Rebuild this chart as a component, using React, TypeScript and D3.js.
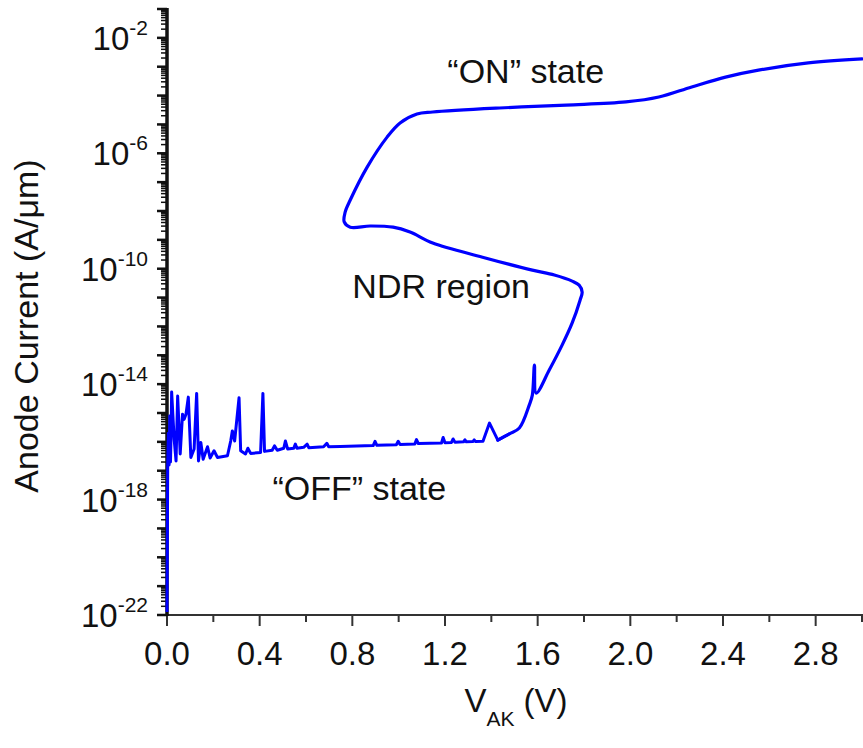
import { useEffect, useRef } from 'react';
import * as d3 from 'd3';

// OFF branch: anode voltage (V) and log10 of anode current (A/um)
const offVoltage = [
  0.000, 0.003, 0.006, 0.009, 0.012, 0.015, 0.018, 0.020, 0.031, 0.039, 0.046, 0.057,
  0.067, 0.074, 0.082, 0.092, 0.103, 0.117, 0.128, 0.136, 0.146, 0.156, 0.175, 0.186,
  0.203, 0.218, 0.261, 0.275, 0.282, 0.292, 0.311, 0.318, 0.339, 0.349, 0.361, 0.404,
  0.414, 0.421, 0.454, 0.464, 0.476, 0.504, 0.511, 0.521, 0.547, 0.554, 0.561, 0.590,
  0.605, 0.612, 0.676, 0.690, 0.698, 0.748, 0.890, 0.898, 0.906, 0.990, 0.998, 1.006,
  1.070, 1.077, 1.085, 1.185, 1.192, 1.200, 1.228, 1.235, 1.243, 1.280, 1.286, 1.292,
  1.320, 1.326, 1.332, 1.364, 1.392, 1.428,
];
const offLogCurrent = [
  -21.9, -16.9, -15.7, -16.8, -15.1, -16.7, -15.6, -14.27, -15.92, -16.66, -14.41, -16.42,
  -15.04, -15.22, -15.04, -14.45, -16.54, -16.25, -14.32, -16.66, -16.02, -16.60, -16.17, -16.56,
  -16.31, -16.54, -16.48, -15.97, -15.62, -15.97, -14.47, -16.31, -16.42, -16.22, -16.40, -16.37,
  -14.32, -16.33, -16.29, -16.14, -16.29, -16.22, -15.97, -16.25, -16.22, -16.08, -16.22, -16.19,
  -16.08, -16.20, -16.17, -16.05, -16.17, -16.16, -16.13, -15.98, -16.12, -16.10, -15.98, -16.09,
  -16.07, -15.92, -16.06, -16.04, -15.85, -16.03, -16.02, -15.90, -16.01, -16.00, -15.93, -16.00,
  -15.99, -15.93, -15.99, -15.98, -15.35, -15.94,
];

// switching branch: breakover, NDR snapback and ON state
const onVoltage = [
  1.478, 1.521, 1.564, 1.577, 1.586, 1.594, 1.650, 1.706, 1.749, 1.783, 1.792, 1.779,
  1.749, 1.672, 1.577, 1.362, 1.147, 1.049, 0.976, 0.877, 0.791, 0.765, 0.769, 0.791,
  0.864, 0.950, 1.006, 1.079, 1.147, 1.435, 1.723, 1.981, 2.123, 2.265, 2.411, 2.553,
  2.768, 3.000,
];
const onLogCurrent = [
  -15.72, -15.52, -14.72, -14.38, -13.34, -14.31, -13.51, -12.64, -11.88, -11.09, -10.81, -10.57,
  -10.43, -10.22, -10.05, -9.60, -9.11, -8.73, -8.56, -8.52, -8.56, -8.38, -8.04, -7.62,
  -6.48, -5.44, -4.95, -4.64, -4.57, -4.43, -4.33, -4.22, -4.05, -3.70, -3.36, -3.12,
  -2.87, -2.73,
];

const xMajorTicks = [0, 0.4, 0.8, 1.2, 1.6, 2.0, 2.4, 2.8];
const xMinorTicks = [0.2, 0.6, 1.0, 1.4, 1.8, 2.2, 2.6, 3.0];
const yLabelExponents = [-2, -6, -10, -14, -18, -22];

const annotations = [
  { text: '\u201CON\u201D state', v: 1.21, logI: -3.55 },
  { text: 'NDR region', v: 0.80, logI: -11.0 },
  { text: '\u201COFF\u201D state', v: 0.455, logI: -18.0 },
];

const FONT = '"Liberation Sans", Arial, Helvetica, sans-serif';

export default function App() {
  const svgRef = useRef<SVGSVGElement>(null);
  const W = 863, H = 748;

  useEffect(() => {
    if (!svgRef.current) return;
    const svg = d3.select(svgRef.current);
    svg.selectAll('*').remove();

    const x = d3.scaleLinear().domain([0, 3]).range([167, 862]);
    const y = d3.scaleLog().domain([1e-22, 1e-1]).range([615, 9]);

    // x axis: line, ticks, labels
    svg.append('line')
      .attr('x1', 167).attr('x2', W).attr('y1', 615).attr('y2', 615)
      .attr('stroke', '#333').attr('stroke-width', 2);
    svg.selectAll('line.xmaj').data(xMajorTicks).enter().append('line')
      .attr('x1', d => x(d)).attr('x2', d => x(d)).attr('y1', 615).attr('y2', 626)
      .attr('stroke', '#333').attr('stroke-width', 2);
    svg.selectAll('line.xmin').data(xMinorTicks).enter().append('line')
      .attr('x1', d => x(d)).attr('x2', d => x(d)).attr('y1', 615).attr('y2', 622)
      .attr('stroke', '#333').attr('stroke-width', 2);
    svg.selectAll('text.xlab').data(xMajorTicks).enter().append('text')
      .attr('x', d => x(d)).attr('y', 665)
      .attr('text-anchor', 'middle')
      .style('font-family', FONT).style('font-size', '33px').style('fill', '#111')
      .text(d => d.toFixed(1));

    // y axis: decade ticks and 2..9 minor ticks
    const decades = d3.range(-22, 0);
    const minor: number[] = [];
    for (const e of decades.slice(0, -1)) for (let k = 2; k <= 9; k++) minor.push(k * 10 ** e);
    svg.selectAll('line.ymin').data(minor).enter().append('line')
      .attr('x1', 161).attr('x2', 167).attr('y1', d => y(d)).attr('y2', d => y(d))
      .attr('stroke', '#111').attr('stroke-width', 1.5);
    svg.selectAll('line.ymaj').data(decades).enter().append('line')
      .attr('x1', 157).attr('x2', 167).attr('y1', d => y(10 ** d)).attr('y2', d => y(10 ** d))
      .attr('stroke', '#111').attr('stroke-width', 2.5);
    svg.append('line')
      .attr('x1', 167).attr('x2', 167).attr('y1', 616).attr('y2', 8)
      .attr('stroke', '#111').attr('stroke-width', 3.5);

    const ylab = svg.selectAll('text.ylab').data(yLabelExponents).enter().append('text')
      .attr('x', 148).attr('y', d => y(10 ** d) + 12)
      .attr('text-anchor', 'end')
      .style('font-family', FONT).style('font-size', '33px').style('fill', '#111');
    ylab.append('tspan').text('10');
    ylab.append('tspan').attr('dy', -15).style('font-size', '21px').text(d => `${d}`);

    // axis titles
    svg.append('text')
      .attr('transform', 'rotate(-90)')
      .attr('x', -326).attr('y', 38)
      .attr('text-anchor', 'middle')
      .style('font-family', FONT).style('font-size', '34px').style('fill', '#111')
      .text('Anode Current (A/\u03BCm)');

    const xt = svg.append('text')
      .attr('x', 516).attr('y', 712)
      .attr('text-anchor', 'middle')
      .style('font-family', FONT).style('font-size', '33px').style('fill', '#111');
    xt.append('tspan').text('V');
    xt.append('tspan').attr('dy', 14).style('font-size', '21px').text('AK');
    xt.append('tspan').attr('dy', -14).text(' (V)');

    // curve: noisy OFF branch drawn straight, switching branch smoothed
    const offPts: [number, number][] = offVoltage.map((v, i) => [v, offLogCurrent[i]]);
    const onPts: [number, number][] = onVoltage.map((v, i) => [v, onLogCurrent[i]]);
    const offLine = d3.line<[number, number]>()
      .x(d => x(d[0]))
      .y(d => y(10 ** d[1]));
    const onLine = d3.line<[number, number]>()
      .x(d => x(d[0]))
      .y(d => y(10 ** d[1]))
      .curve(d3.curveCatmullRom.alpha(0.5));

    svg.append('path')
      .datum([...offPts, onPts[0]])
      .attr('d', offLine)
      .attr('fill', 'none')
      .attr('stroke', '#0000ff')
      .attr('stroke-width', 3)
      .attr('stroke-linejoin', 'round');
    svg.append('path')
      .datum([offPts[offPts.length - 1], ...onPts])
      .attr('d', onLine)
      .attr('fill', 'none')
      .attr('stroke', '#0000ff')
      .attr('stroke-width', 3.2)
      .attr('stroke-linejoin', 'round')
      .attr('stroke-linecap', 'round');

    // annotations
    svg.selectAll('text.ann').data(annotations).enter().append('text')
      .attr('x', d => x(d.v)).attr('y', d => y(10 ** d.logI))
      .style('font-family', FONT).style('font-size', '34px').style('fill', '#111')
      .text(d => d.text);
  }, []);

  return (
    <div style={{ position: 'absolute', left: 0, top: 0, width: W, height: H, background: '#fff' }}>
      <svg ref={svgRef} width={W} height={H} viewBox={`0 0 ${W} ${H}`} style={{ display: 'block' }} />
    </div>
  );
}
